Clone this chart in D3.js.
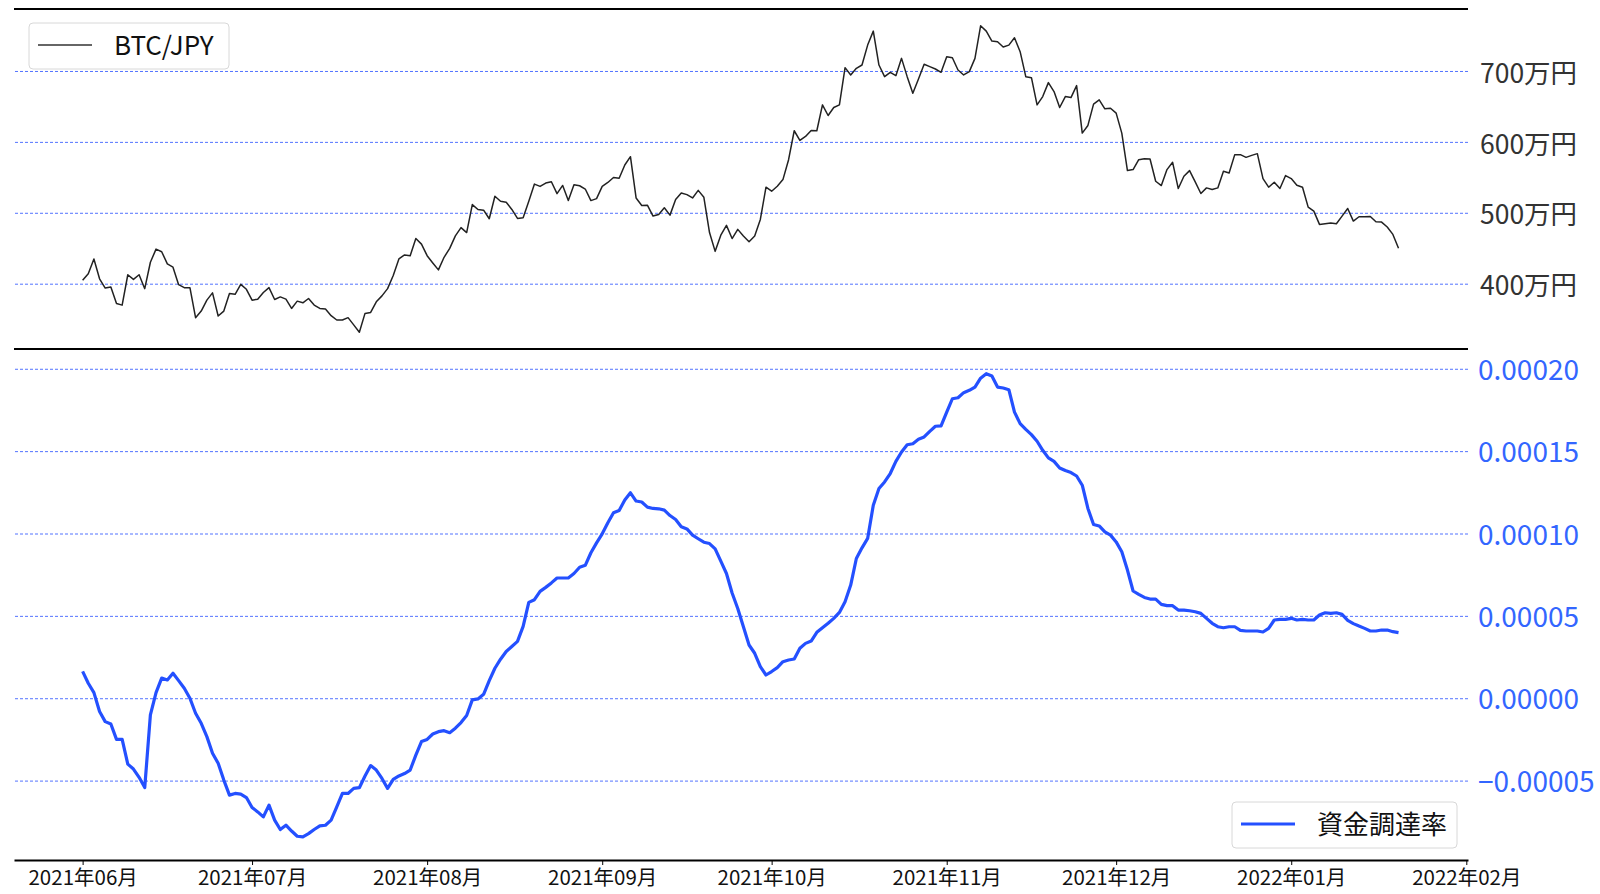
<!DOCTYPE html>
<html>
<head>
<meta charset="utf-8">
<script src="https://cdn.jsdelivr.net/npm/d3@7"></script>
<style>
  html, body { margin: 0; padding: 0; background: #fff; }
  svg { display: block; }
</style>
</head>
<body>
<svg id="chart" width="1600" height="894"></svg>
<script>
// ---------------- DATA ----------------
const startDate = "2021-06-01";           // first daily observation
// BTC/JPY daily close, in 万円 (10,000 JPY)
const btcJpy = [
  404.7,414.0,434.9,406.9,393.9,395.4,372.1,369.8,412.6,406.1,
  412.6,393.0,430.2,448.8,445.1,427.9,423.3,398.6,394.4,394.4,
  352.1,361.4,376.8,387.0,354.4,361.4,386.1,385.1,399.1,392.1,
  376.8,378.2,387.5,394.4,377.7,381.4,378.2,365.1,375.4,373.0,
  379.1,369.8,365.1,364.2,354.9,348.8,348.8,352.1,341.9,331.6,
  358.1,359.5,374.4,382.8,393.0,411.6,434.9,440.5,439.5,463.7,
  455.8,439.5,429.3,419.5,437.2,449.8,467.4,479.1,472.1,511.6,
  504.7,503.7,491.6,523.3,516.3,514.9,504.7,492.1,493.0,516.3,
  540.5,537.2,541.9,543.7,527.0,538.6,517.2,539.5,538.1,533.5,
  517.2,520.0,537.2,542.8,549.8,548.8,567.4,579.1,520.9,510.2,
  510.7,495.4,497.7,507.0,496.7,518.6,527.9,525.6,520.9,531.6,
  521.9,472.1,445.6,468.4,482.3,463.7,476.6,467.2,459.2,467.2,
  490.6,536.1,530.4,537.5,546.8,574.9,615.7,602.1,607.7,616.2,
  615.7,652.2,637.2,648.5,652.2,704.7,694.4,703.7,708.4,736.5,
  756.2,708.4,692.0,698.1,693.4,717.8,692.0,668.6,688.8,709.4,
  706.1,702.8,698.1,720.1,718.7,701.4,694.4,699.1,717.8,763.7,
  756.2,742.2,741.2,733.7,736.5,746.8,727.2,692.0,690.6,652.2,
  663.9,683.6,671.0,648.5,663.9,662.5,679.4,612.4,623.2,653.2,
  659.2,646.6,647.5,640.5,612.4,559.5,560.9,574.9,576.3,575.9,
  544.5,538.4,560.9,571.2,534.2,551.5,559.5,543.6,527.2,535.1,
  532.8,535.1,558.5,556.2,582.0,582.0,578.2,581.0,583.4,548.2,
  536.1,543.1,534.2,552.5,548.2,538.9,536.1,508.0,502.3,483.6,
  484.5,485.5,484.5,495.3,506.1,488.3,494.4,494.4,494.8,487.3,
  486.9,479.9,469.5,450.0
];
// Funding rate (資金調達率), in units of 1e-5
const fundingRateE5 = [
  1.63,0.91,0.34,-0.81,-1.42,-1.56,-2.50,-2.50,-4.00,-4.30,
  -4.80,-5.42,-1.01,0.34,1.22,1.11,1.52,1.07,0.61,0.00,
  -0.91,-1.52,-2.33,-3.34,-3.95,-4.97,-5.88,-5.78,-5.82,-6.03,
  -6.63,-6.90,-7.20,-6.49,-7.40,-7.97,-7.71,-8.06,-8.38,-8.42,
  -8.22,-7.97,-7.75,-7.71,-7.40,-6.59,-5.78,-5.78,-5.47,-5.43,
  -4.72,-4.09,-4.36,-4.87,-5.47,-4.93,-4.72,-4.57,-4.36,-3.45,
  -2.63,-2.50,-2.17,-2.03,-1.97,-2.09,-1.82,-1.48,-1.05,-0.10,
  -0.04,0.24,1.07,1.82,2.37,2.84,3.14,3.45,4.36,5.82,
  5.98,6.49,6.73,7.00,7.30,7.30,7.30,7.57,7.95,8.07,
  8.83,9.43,9.98,10.65,11.26,11.40,12.03,12.47,11.97,11.91,
  11.60,11.52,11.50,11.42,11.09,10.85,10.41,10.28,9.90,9.68,
  9.47,9.39,9.07,8.32,7.57,6.39,5.45,4.34,3.23,2.73,
  1.92,1.41,1.62,1.86,2.22,2.32,2.38,3.03,3.33,3.47,
  4.00,4.28,4.55,4.85,5.21,5.86,6.87,8.48,9.13,9.70,
  11.72,12.73,13.13,13.64,14.38,14.95,15.39,15.45,15.72,15.86,
  16.20,16.51,16.53,17.37,18.18,18.24,18.55,18.69,18.89,19.43,
  19.70,19.56,18.89,18.83,18.73,17.37,16.67,16.32,16.00,15.60,
  15.05,14.59,14.38,13.98,13.82,13.70,13.49,12.93,11.52,10.55,
  10.46,10.10,9.90,9.49,8.89,7.78,6.51,6.30,6.12,6.02,
  6.02,5.70,5.62,5.62,5.35,5.35,5.31,5.25,5.15,4.85,
  4.55,4.34,4.28,4.34,4.34,4.12,4.08,4.08,4.08,4.02,
  4.24,4.75,4.79,4.79,4.85,4.75,4.79,4.75,4.75,5.05,
  5.19,5.15,5.19,5.09,4.73,4.53,4.38,4.24,4.08,4.08,
  4.14,4.14,4.04,3.98
];
const btcTicks = [400, 500, 600, 700];
const fundingTicks = [-0.00005, 0, 0.00005, 0.0001, 0.00015, 0.0002];
const monthTicks = ["2021-06-01","2021-07-01","2021-08-01","2021-09-01","2021-10-01",
                    "2021-11-01","2021-12-01","2022-01-01","2022-02-01"];
const btcLabel = "BTC/JPY";
const fundingLabel = "資金調達率";

// ---------------- BUILD ----------------
const parse = d3.timeParse("%Y-%m-%d");
const t0 = parse(startDate);
const dates = btcJpy.map((_, i) => d3.timeDay.offset(t0, i));
const btcData = btcJpy.map((v, i) => ({ date: dates[i], v }));
const fundData = fundingRateE5.map((v, i) => ({ date: dates[i], v: v * 1e-5 }));

const svg = d3.select("#chart");
const L = 14, R = 1468;
const topY0 = 9, topY1 = 349, botY0 = 349, botY1 = 860;

const DAY = 86400000;
const x = d3.scaleTime()
  .domain([new Date(+t0 - 12.15 * DAY), new Date(+t0 + 245.3 * DAY)])
  .range([L, R]);

const yTop = d3.scaleLinear().domain([307.9, 787.4]).range([topY1, topY0]);
const yBot = d3.scaleLinear().domain([-0.0000982, 0.000212]).range([botY1, botY0]);

const gridColor = "#3f63ff";
const blue = "#2450ff";
const fontJP = "'Noto Sans CJK JP', 'Noto Sans', sans-serif";

// top grid + labels
const gTopAxis = svg.append("g")
  .attr("transform", `translate(${R},0)`)
  .call(d3.axisRight(yTop).tickValues(btcTicks).tickSize(-(R - L)).tickPadding(12)
        .tickFormat(d => d + "万円"));
gTopAxis.select(".domain").remove();
gTopAxis.selectAll(".tick line").attr("stroke", gridColor).attr("stroke-width", 0.9)
  .attr("stroke-dasharray", "3,2");
gTopAxis.selectAll(".tick text").attr("fill", "#333").style("font-family", fontJP)
  .style("font-size", "26.5px").attr("dy", "0.42em");

// bottom grid + labels
const gBotAxis = svg.append("g")
  .attr("transform", `translate(${R},0)`)
  .call(d3.axisRight(yBot).tickValues(fundingTicks).tickSize(-(R - L)).tickPadding(10)
        .tickFormat(d3.format(".5f")));
gBotAxis.select(".domain").remove();
gBotAxis.selectAll(".tick line").attr("stroke", gridColor).attr("stroke-width", 0.9)
  .attr("stroke-dasharray", "3,2");
gBotAxis.selectAll(".tick text").attr("fill", "#3366ff").style("font-family", fontJP)
  .style("font-size", "28px").attr("dy", "0.38em");

// lines
svg.append("path").datum(btcData)
  .attr("fill", "none").attr("stroke", "#222").attr("stroke-width", 1.5)
  .attr("stroke-linejoin", "round")
  .attr("d", d3.line().x(d => x(d.date)).y(d => yTop(d.v)));

svg.append("path").datum(fundData)
  .attr("fill", "none").attr("stroke", blue).attr("stroke-width", 3.2)
  .attr("stroke-linejoin", "round")
  .attr("d", d3.line().x(d => x(d.date)).y(d => yBot(d.v)));

// spines
svg.append("line").attr("x1", L).attr("x2", R).attr("y1", topY0).attr("y2", topY0)
  .attr("stroke", "#000").attr("stroke-width", 2);
svg.append("line").attr("x1", L).attr("x2", R).attr("y1", topY1).attr("y2", topY1)
  .attr("stroke", "#000").attr("stroke-width", 2);

// x axis
const gX = svg.append("g")
  .attr("transform", `translate(0,${botY1})`)
  .call(d3.axisBottom(x).tickValues(monthTicks.map(parse)).tickSize(5).tickSizeOuter(0)
        .tickPadding(5).tickFormat(d3.timeFormat("%Y年%m月")));
gX.select(".domain").attr("stroke", "#000").attr("stroke-width", 2);
gX.selectAll(".tick line").attr("stroke", "#000").attr("stroke-width", 1);
gX.selectAll(".tick text").attr("fill", "#111").style("font-family", fontJP)
  .style("font-size", "20.5px");

// legends
function legend(x0, y0, w, h, color, sw, label) {
  const g = svg.append("g");
  g.append("rect").attr("x", x0).attr("y", y0).attr("width", w).attr("height", h)
    .attr("rx", 4).attr("fill", "rgba(255,255,255,0.85)").attr("stroke", "#d8d8d8");
  g.append("line").attr("x1", x0 + 9).attr("x2", x0 + 63)
    .attr("y1", y0 + h / 2 - 1).attr("y2", y0 + h / 2 - 1)
    .attr("stroke", color).attr("stroke-width", sw);
  g.append("text").attr("x", x0 + 85).attr("y", y0 + h / 2).attr("dy", "0.35em")
    .attr("fill", "#111").style("font-family", fontJP).style("font-size", "26px")
    .text(label);
}
legend(29, 23, 200, 46, "#333", 1.5, btcLabel);
legend(1232, 802, 225, 46, blue, 3.2, fundingLabel);
</script>
</body>
</html>
